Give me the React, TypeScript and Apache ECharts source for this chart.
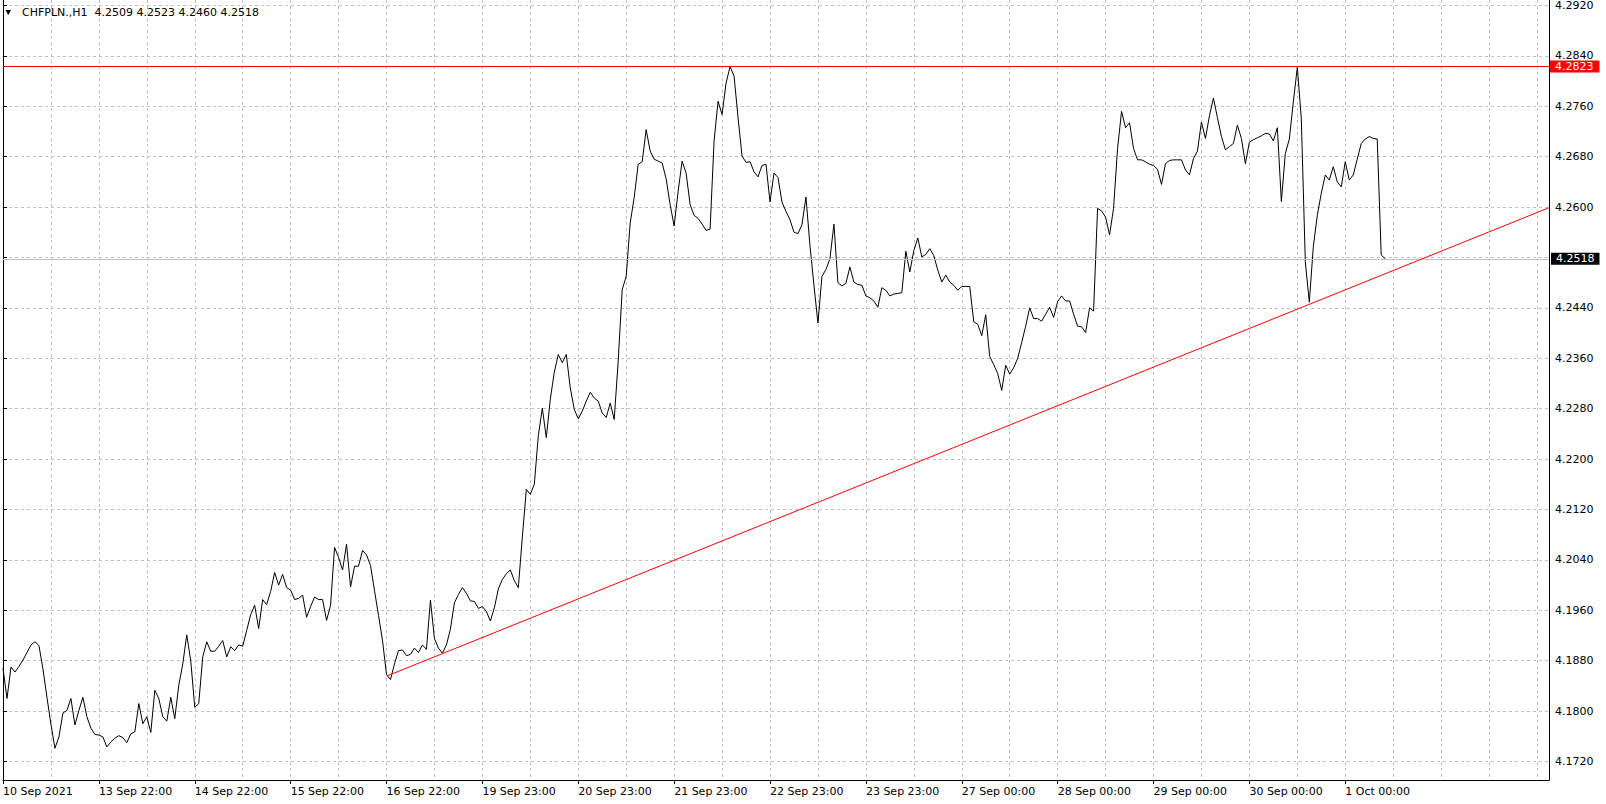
import React, { useEffect, useRef } from 'react';
import * as echarts from 'echarts';

// ---- data ----
const headerText = 'CHFPLN.,H1  4.2509 4.2523 4.2460 4.2518';
const tickLabels = [
  '10 Sep 2021', '13 Sep 22:00', '14 Sep 22:00', '15 Sep 22:00', '16 Sep 22:00',
  '19 Sep 23:00', '20 Sep 23:00', '21 Sep 23:00', '22 Sep 23:00', '23 Sep 23:00',
  '27 Sep 00:00', '28 Sep 00:00', '29 Sep 00:00', '30 Sep 00:00', '1 Oct 00:00',
];
const barsPerLabel = 24;
const barsPerGrid = 12;
const totalSlots = 388;

// hourly closes (H1)
const closes = [
  4.1868, 4.1820, 4.1870, 4.1862, 4.1871, 4.1881, 4.1893, 4.1905, 4.1910, 4.1904, 4.1867, 4.1822,
  4.1779, 4.1741, 4.1759, 4.1797, 4.1801, 4.1820, 4.1778, 4.1801, 4.1822, 4.1791, 4.1773, 4.1763,
  4.1762, 4.1759, 4.1743, 4.1751, 4.1757, 4.1761, 4.1758, 4.1750, 4.1764, 4.1767, 4.1812, 4.1780,
  4.1791, 4.1766, 4.1833, 4.1820, 4.1791, 4.1784, 4.1822, 4.1788, 4.1841, 4.1875, 4.1921, 4.1880,
  4.1806, 4.1812, 4.1886, 4.1910, 4.1895, 4.1895, 4.1903, 4.1912, 4.1886, 4.1902, 4.1896, 4.1905,
  4.1903, 4.1928, 4.1953, 4.1968, 4.1931, 4.1977, 4.1969, 4.1990, 4.2020, 4.2000, 4.2017, 4.1996,
  4.1992, 4.1977, 4.1979, 4.1984, 4.1949, 4.1966, 4.1981, 4.1977, 4.1977, 4.1944, 4.1968, 4.2060,
  4.2044, 4.2024, 4.2065, 4.1997, 4.2030, 4.2030, 4.2055, 4.2048, 4.2031, 4.1991, 4.1952, 4.1912,
  4.1858, 4.1850, 4.1875, 4.1896, 4.1897, 4.1888, 4.1890, 4.1900, 4.1893, 4.1905, 4.1898, 4.1976,
  4.1915, 4.1900, 4.1892, 4.1905, 4.1930, 4.1972, 4.1985, 4.1996, 4.1987, 4.1975, 4.1974, 4.1963,
  4.1966, 4.1958, 4.1943, 4.1964, 4.1994, 4.2009, 4.2018, 4.2024, 4.2007, 4.1996, 4.2076, 4.2152,
  4.2144, 4.2160, 4.2237, 4.2281, 4.2234, 4.2295, 4.2338, 4.2366, 4.2353, 4.2366, 4.2313, 4.2279,
  4.2264, 4.2276, 4.2292, 4.2306, 4.2297, 4.2292, 4.2273, 4.2266, 4.2289, 4.2263, 4.2356, 4.2469,
  4.2490, 4.2575, 4.2615, 4.2668, 4.2672, 4.2723, 4.2689, 4.2676, 4.2673, 4.2670, 4.2645, 4.2604,
  4.2570, 4.2625, 4.2673, 4.2654, 4.2604, 4.2587, 4.2582, 4.2573, 4.2563, 4.2565, 4.2705, 4.2768,
  4.2747, 4.2797, 4.2823, 4.2808, 4.2742, 4.2681, 4.2671, 4.2672, 4.2656, 4.2648, 4.2666, 4.2668,
  4.2608, 4.2654, 4.2647, 4.2608, 4.2593, 4.2580, 4.2560, 4.2558, 4.2572, 4.2616, 4.2539, 4.2476,
  4.2416, 4.2490, 4.2501, 4.2518, 4.2573, 4.2480, 4.2475, 4.2479, 4.2505, 4.2481, 4.2477, 4.2476,
  4.2459, 4.2456, 4.2451, 4.2441, 4.2472, 4.2468, 4.2459, 4.2462, 4.2463, 4.2464, 4.2530, 4.2497,
  4.2531, 4.2551, 4.2521, 4.2525, 4.2534, 4.2523, 4.2500, 4.2481, 4.2492, 4.2481, 4.2476, 4.2468,
  4.2474, 4.2474, 4.2474, 4.2418, 4.2414, 4.2396, 4.2429, 4.2363, 4.2350, 4.2336, 4.2309, 4.2349,
  4.2335, 4.2345, 4.2360, 4.2385, 4.2411, 4.2440, 4.2423, 4.2423, 4.2419, 4.2430, 4.2441, 4.2425,
  4.2450, 4.2459, 4.2451, 4.2451, 4.2430, 4.2411, 4.2410, 4.2401, 4.2440, 4.2435, 4.2598, 4.2594,
  4.2584, 4.2556, 4.2598, 4.2693, 4.2752, 4.2726, 4.2734, 4.2693, 4.2675, 4.2675, 4.2672, 4.2668,
  4.2666, 4.2660, 4.2636, 4.2669, 4.2674, 4.2675, 4.2675, 4.2675, 4.2659, 4.2651, 4.2677, 4.2689,
  4.2735, 4.2709, 4.2745, 4.2773, 4.2742, 4.2712, 4.2691, 4.2696, 4.2701, 4.2730, 4.2709, 4.2669,
  4.2703, 4.2707, 4.2710, 4.2713, 4.2717, 4.2716, 4.2705, 4.2726, 4.2609, 4.2685, 4.2708, 4.2767,
  4.2822, 4.2740, 4.2513, 4.2449, 4.2537, 4.2587, 4.2622, 4.2651, 4.2643, 4.2664, 4.2640, 4.2632,
  4.2672, 4.2643, 4.2651, 4.2676, 4.2701, 4.2708, 4.2712, 4.2709, 4.2708, 4.2524, 4.2518,
];

const resistanceLevel = 4.2823;
const lastPrice = 4.2518;
const trendStart: [number, number] = [96.2, 4.1856];
const trendEnd: [number, number] = [387, 4.2599];

const priceMin = 4.172;
const priceMax = 4.292;
const priceStep = 0.008;

// axis works in pips above priceMin so ticks are integers
const toAxis = (p: number) => Math.round((p - priceMin) * 100000) / 10;
const fromAxis = (a: number) => (priceMin + a / 10000).toFixed(4);

const FONT = 'DejaVu Sans';
const GRID_COLOR = '#c0c0c0';

export default function App() {
  const ref = useRef<HTMLDivElement>(null);

  useEffect(() => {
    if (!ref.current) return;
    const chart = echarts.init(ref.current, undefined, { renderer: 'svg' });

    const slots = Array.from({ length: totalSlots }, (_, i) =>
      i % barsPerLabel === 0 && i / barsPerLabel < tickLabels.length ? tickLabels[i / barsPerLabel] : ''
    );
    const lastLabelIndex = (tickLabels.length - 1) * barsPerLabel;

    const gridL = 3;
    const gridR = 57;

    chart.setOption({
      animation: false,
      backgroundColor: '#ffffff',
      textStyle: { fontFamily: FONT },
      grid: [
        { left: gridL, right: gridR, top: 3.4, bottom: 42.5, containLabel: false },
        { left: gridL, right: gridR, top: 0, bottom: 24, containLabel: false },
      ],
      xAxis: [
        {
          gridIndex: 0,
          type: 'value',
          min: 0,
          max: totalSlots - 1,
          show: false,
        },
        {
          gridIndex: 1,
          type: 'category',
          data: slots,
          boundaryGap: false,
          axisLine: { show: true, lineStyle: { color: '#000', width: 1 } },
          axisTick: {
            show: true,
            length: 4,
            interval: (i: number) => i % barsPerLabel === 0 && i <= lastLabelIndex,
            lineStyle: { color: '#000' },
          },
          axisLabel: {
            show: true,
            interval: (i: number) => i % barsPerLabel === 0 && i <= lastLabelIndex,
            align: 'left',
            margin: 6,
            color: '#000',
            fontFamily: FONT,
            fontSize: 11,
          },
          splitLine: {
            show: true,
            interval: (i: number) => i % barsPerGrid === 0,
            lineStyle: { color: GRID_COLOR, type: [3, 3], width: 1 },
          },
        },
      ],
      yAxis: [
        {
          gridIndex: 0,
          type: 'value',
          position: 'right',
          min: 0,
          max: toAxis(priceMax),
          interval: Math.round(priceStep * 10000),
          axisLine: { show: false },
          axisTick: { show: true, length: 4, lineStyle: { color: '#000' } },
          axisLabel: {
            margin: 6,
            color: '#000',
            fontFamily: FONT,
            fontSize: 11,
            formatter: (v: number) => fromAxis(v),
          },
          splitLine: { show: true, lineStyle: { color: GRID_COLOR, type: [3, 3], width: 1 } },
        },
        {
          gridIndex: 1,
          type: 'value',
          position: 'right',
          min: 0,
          max: 1,
          axisLine: { show: true, lineStyle: { color: '#000', width: 1 } },
          axisTick: { show: false },
          axisLabel: { show: false },
          splitLine: { show: false },
        },
        {
          gridIndex: 1,
          type: 'value',
          position: 'left',
          min: 0,
          max: 1,
          axisLine: { show: true, lineStyle: { color: '#000', width: 1 } },
          axisTick: { show: false },
          axisLabel: { show: false },
          splitLine: { show: false },
        },
      ],
      series: [
        {
          type: 'line',
          name: 'CHFPLN',
          xAxisIndex: 0,
          yAxisIndex: 0,
          data: closes.map((c, i) => [i, toAxis(c)]),
          showSymbol: false,
          symbol: 'none',
          lineStyle: { color: '#000000', width: 1 },
          z: 4,
          silent: true,
          markLine: {
            silent: true,
            symbol: 'none',
            animation: false,
            data: [
              {
                yAxis: toAxis(lastPrice),
                lineStyle: { color: GRID_COLOR, type: 'solid', width: 1 },
                label: {
                  show: true,
                  position: 'end',
                  distance: 2,
                  formatter: lastPrice.toFixed(4),
                  backgroundColor: '#000000',
                  color: '#ffffff',
                  fontFamily: FONT,
                  fontSize: 11,
                  lineHeight: 12,
                  padding: [0, 5, 0, 5],
                },
              },
              {
                yAxis: toAxis(resistanceLevel),
                lineStyle: { color: '#ff0000', type: 'solid', width: 1 },
                label: {
                  show: true,
                  position: 'end',
                  distance: 1,
                  formatter: resistanceLevel.toFixed(4),
                  backgroundColor: '#ff0000',
                  color: '#ffffff',
                  fontFamily: FONT,
                  fontSize: 11,
                  lineHeight: 12,
                  padding: [0, 6, 0, 5],
                },
              },
            ],
          },
        },
        {
          type: 'line',
          name: 'trend',
          xAxisIndex: 0,
          yAxisIndex: 0,
          data: [trendStart, trendEnd].map(([i, p]) => [i, toAxis(p)]),
          showSymbol: false,
          symbol: 'none',
          lineStyle: { color: '#ff0000', width: 1 },
          z: 5,
          silent: true,
        },
      ],
      graphic: [
        {
          type: 'polygon',
          shape: { points: [[5.5, 10], [11, 10], [8.25, 15]] },
          style: { fill: '#000' },
          z: 10,
        },
        {
          type: 'text',
          x: 22,
          y: 12.5,
          style: {
            text: headerText,
            fill: '#000',
            font: `11px "${FONT}"`,
            textVerticalAlign: 'middle',
            verticalAlign: 'middle',
          },
          z: 10,
        },
      ],
    });

    return () => chart.dispose();
  }, []);

  return (
    <div
      ref={ref}
      style={{ position: 'absolute', left: 0, top: 0, width: 1606, height: 804, background: '#fff' }}
    />
  );
}
